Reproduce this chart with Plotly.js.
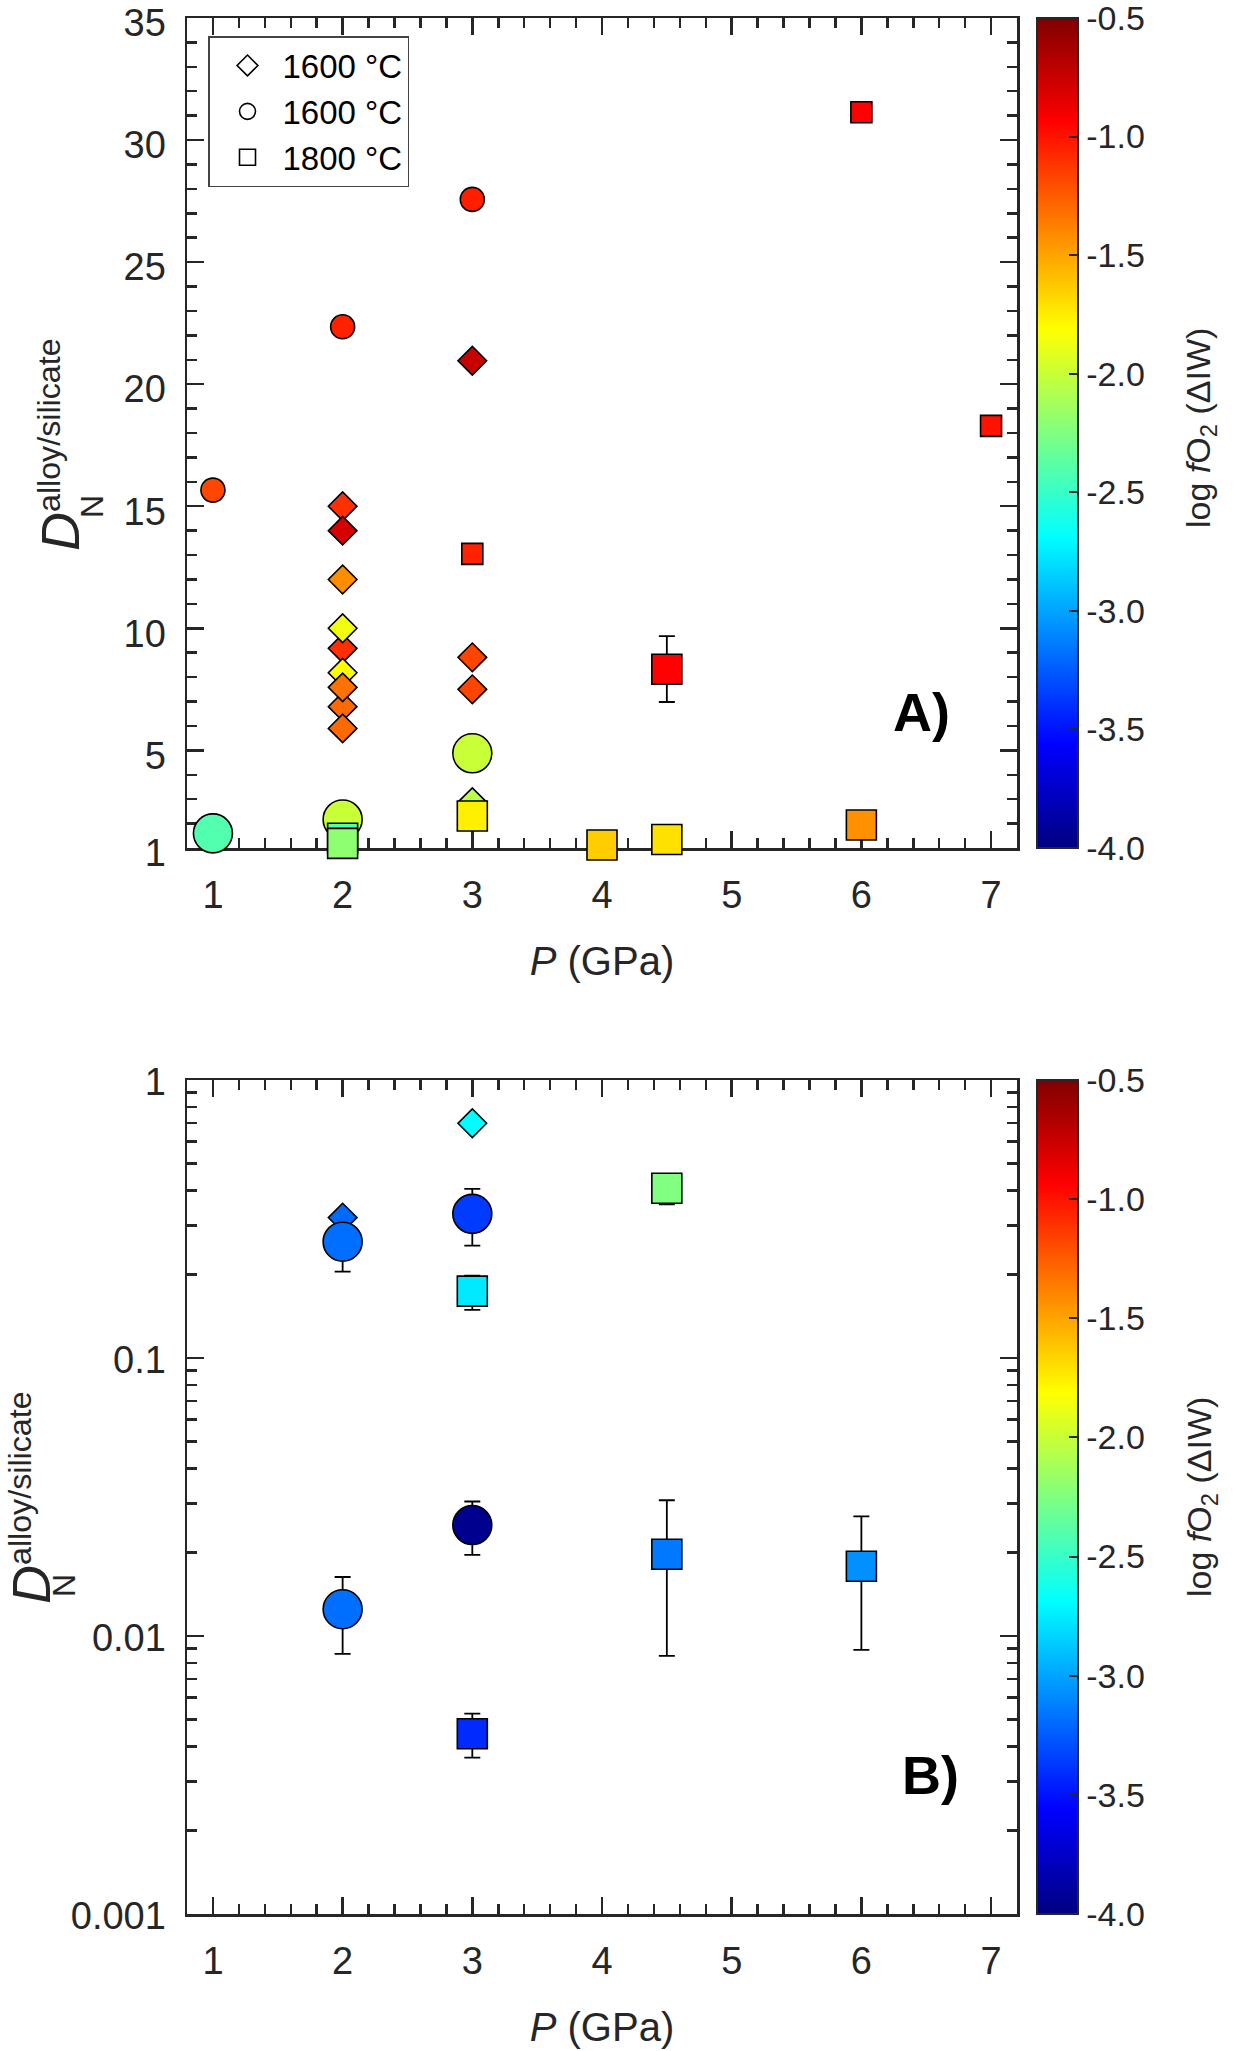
<!DOCTYPE html>
<html>
<head>
<meta charset="utf-8">
<script src="https://cdn.plot.ly/plotly-3.0.1.min.js"></script>
<style>body{margin:0;background:#fff}#chart{width:1243px;height:2051px}</style>
</head>
<body>
<div id="chart"></div>
<script>
// ---------- Panel A (linear) ----------
// series: d = diamond 1600 °C, c = circle 1600 °C, s = square 1800 °C ; grp: 1 = small marker set, 2 = large marker set
const pA    = [1, 1, 2, 3, 2, 2, 2, 2, 2, 2, 2, 2, 2, 2, 2, 2, 3, 3, 3, 3, 3, 3, 3, 4, 4.5, 4.5, 6, 6, 7];
const dA    = [1.6, 15.66, 22.35, 27.57, 15.0, 14.0, 12.0, 9.18, 10.0, 8.18, 6.79, 7.58, 5.9, 2.17, 1.40, 1.19,
               20.96, 8.81, 7.5, 2.88, 4.88, 13.05, 2.31, 1.12, 8.32, 1.35, 31.14, 1.94, 18.29];
const fA    = [-2.41, -1.18, -1.05, -1.04, -1.1, -0.8, -1.42, -1.1, -1.86, -1.8, -1.3, -1.33, -1.3, -2.0, -2.41, -2.2,
               -0.75, -1.17, -1.17, -2.05, -2.0, -1.05, -1.76, -1.64, -0.94, -1.71, -0.94, -1.43, -1.0];
const serA  = ['c','c','c','c','d','d','d','d','d','d','d','d','d','c','s','s',
               'd','d','d','d','c','s','s','s','s','s','s','s','s'];
const grpA  = [2,1,1,1,1,1,1,1,1,1,1,1,1,2,2,2, 1,1,1,1,2,1,2,2,2,2,1,2,1];
const errUpA = [NaN,NaN,NaN,NaN,NaN,NaN,NaN,NaN,NaN,NaN,NaN,NaN,NaN,NaN,NaN,NaN,
                NaN,NaN,NaN,NaN,NaN,NaN,NaN,NaN,1.36,NaN,NaN,NaN,NaN];
const errDnA = [NaN,NaN,NaN,NaN,NaN,NaN,NaN,NaN,NaN,NaN,NaN,NaN,NaN,NaN,NaN,NaN,
                NaN,NaN,NaN,NaN,NaN,NaN,NaN,NaN,1.34,NaN,NaN,NaN,NaN];

// ---------- Panel B (log) ----------
const pB    = [2, 2, 2, 3, 3, 3, 3, 3, 4.5, 4.5, 6];
const dB    = [0.32, 0.262, 0.01248, 0.699, 0.33, 0.174, 0.02507, 0.00445, 0.408, 0.01968, 0.01782];
const fB    = [-3.2, -3.18, -3.18, -2.69, -3.36, -2.76, -3.95, -3.42, -2.25, -3.15, -3.07];
const serB  = ['d','c','c','d','c','s','c','s','s','s','s'];
const grpB  = [1,2,2,1,2,2,2,2,2,2,2];
const errUpB = [NaN, 0.058, 0.00382, NaN, 0.076, 0.024, 0.0054, 0.00081, 0.03, 0.0111, 0.0091];
const errDnB = [NaN, 0.0575, 0.00385, NaN, 0.0765, 0.025, 0.0055, 0.0008, 0.051, 0.0112, 0.0089];

// ---------- axis / colour-bar labels ----------
const pTicks   = [1, 2, 3, 4, 5, 6, 7];
const yTicksA  = [1, 5, 10, 15, 20, 25, 30, 35];
const yTicksB  = [0.001, 0.01, 0.1, 1];
const yTextB   = ['0.001', '0.01', '0.1', '1'];
const cbTicks  = [-4, -3.5, -3, -2.5, -2, -1.5, -1, -0.5];
const cbText   = ['-4.0', '-3.5', '-3.0', '-2.5', '-2.0', '-1.5', '-1.0', '-0.5'];
const legendNames = ['1600 °C', '1600 °C', '1800 °C'];
const yTitle  = '<span style="font-size:54px"><i>D</i></span><sup>alloy/silicate</sup>';
const ySub    = 'N';
const cbTitle = 'log <i>f</i>O<sub>2</sub> (ΔIW)';

// ---------- styles ----------
const W = 1243, H = 2051;
const FONT = 'Liberation Sans, Arial, Helvetica, sans-serif';
const INK = '#262626';
const jet = [[0,'rgb(0,0,128)'],[0.125,'rgb(0,0,255)'],[0.375,'rgb(0,255,255)'],
             [0.625,'rgb(255,255,0)'],[0.875,'rgb(255,0,0)'],[1,'rgb(128,0,0)']];
const SYM = {d:'diamond', c:'circle', s:'square'};
const SIZE = {d:{1:22,2:22}, c:{1:24,2:39}, s:{1:21,2:30}};

const px = v => v / W;
const py = v => 1 - v / H;

function cbar(top, bottom) {
  return {
    x: px(1037), xanchor: 'left', xpad: 0,
    y: py(top), yanchor: 'top', ypad: 0,
    len: (bottom - top) / H, lenmode: 'fraction',
    thickness: 41, thicknessmode: 'pixels',
    outlinewidth: 2, outlinecolor: INK,
    ticks: 'inside', ticklen: 10, tickwidth: 2, tickcolor: INK,
    tickmode: 'array', tickvals: cbTicks, ticktext: cbText, ticklabeloverflow: 'allow',
    tickfont: {family: FONT, size: 34, color: INK}
  };
}

function dataTrace(p, d, f, ser, grp, up, dn, xa, ya, top, bottom) {
  return {
    type: 'scatter', mode: 'markers', x: p, y: d, xaxis: xa, yaxis: ya,
    showlegend: false, cliponaxis: false, hoverinfo: 'x+y',
    marker: {
      symbol: ser.map(s => SYM[s]),
      size: ser.map((s, i) => SIZE[s][grp[i]]),
      opacity: 1,
      color: f, cmin: -4, cmax: -0.5, colorscale: jet, showscale: true,
      line: {color: '#000', width: 1.6},
      colorbar: cbar(top, bottom)
    },
    error_y: {type: 'data', symmetric: false, array: up, arrayminus: dn,
              color: '#000', thickness: 1.8, width: 8}
  };
}

const traces = [
  dataTrace(pA, dA, fA, serA, grpA, errUpA, errDnA, 'x', 'y', 18, 848),
  dataTrace(pB, dB, fB, serB, grpB, errUpB, errDnB, 'x2', 'y2', 1080, 1914)
];
['d','c','s'].forEach((s, i) => traces.push({
  type: 'scatter', mode: 'markers', x: [null], y: [null], xaxis: 'x', yaxis: 'y',
  name: legendNames[i], showlegend: true,
  marker: {symbol: SYM[s], size: 16, opacity: 1, color: '#fff', line: {color: '#000', width: 1.6}}
}));

function xAxis(anchor) {
  return {
    domain: [px(187), px(1017)], anchor: anchor, range: [0.8, 7.2], layer: 'below traces',
    tickmode: 'array', tickvals: pTicks, ticks: 'inside', ticklen: 17, tickwidth: 2.5, tickcolor: INK,
    showline: true, linewidth: 2.5, linecolor: INK, mirror: 'allticks',
    showgrid: false, zeroline: false, ticklabeloverflow: 'allow',
    minor: {tickmode: 'linear', tick0: 0, dtick: 0.2, ticks: 'inside', ticklen: 10, tickwidth: 2.5, tickcolor: INK},
    tickfont: {family: FONT, size: 38, color: INK}, ticklabelstandoff: 12,
    title: {text: '<i>P</i> (GPa)', font: {family: FONT, size: 40, color: INK}, standoff: 32}
  };
}

function yAxisCommon(shift) {
  return {
    ticks: 'inside', ticklen: 17, tickwidth: 2.5, tickcolor: INK, layer: 'below traces',
    showline: true, linewidth: 2.5, linecolor: INK, mirror: 'allticks',
    showgrid: false, zeroline: false, ticklabeloverflow: 'allow',
    tickfont: {family: FONT, size: 38, color: INK}, ticklabelstandoff: 11, ticklabelshift: shift
  };
}

function rotText(x, y, text, size) {
  return {xref: 'paper', yref: 'paper', x: px(x), y: py(y), xanchor: 'center', yanchor: 'middle',
          textangle: -90, showarrow: false, text: text, font: {family: FONT, size: size, color: INK}};
}
function panelTag(x, y, text) {
  return {xref: 'paper', yref: 'paper', x: px(x), y: py(y), xanchor: 'center', yanchor: 'middle',
          showarrow: false, text: '<b>' + text + '</b>', font: {family: FONT, size: 54, color: '#000'}};
}

const layout = {
  width: W, height: H, margin: {l: 0, r: 0, t: 0, b: 0},
  paper_bgcolor: '#fff', plot_bgcolor: '#fff',
  font: {family: FONT, color: INK},
  showlegend: true,
  legend: {x: px(208), y: py(36), xanchor: 'left', yanchor: 'top',
           bgcolor: '#fff', bordercolor: '#444', borderwidth: 1.5,
           font: {family: FONT, size: 33, color: '#000'}, indentation: 3, itemwidth: 60, itemsizing: 'trace'},
  xaxis: xAxis('y'),
  xaxis2: xAxis('y2'),
  yaxis: Object.assign(yAxisCommon(5), {
    domain: [py(848), py(18)], anchor: 'x', range: [1, 35],
    tickmode: 'array', tickvals: yTicksA,
    minor: {tickmode: 'linear', tick0: 0, dtick: 1, ticks: 'inside', ticklen: 10, tickwidth: 2.5, tickcolor: INK}
  }),
  yaxis2: Object.assign(yAxisCommon(2), {
    domain: [py(1914), py(1080)], anchor: 'x2', type: 'log', range: [-3, 0],
    tickmode: 'array', tickvals: yTicksB, ticktext: yTextB,
    minor: {tickmode: 'linear', dtick: 'D1', ticks: 'inside', ticklen: 10, tickwidth: 2.5, tickcolor: INK}
  }),
  annotations: [
    panelTag(921, 712, 'A)'),
    panelTag(930, 1775, 'B)'),
    rotText(60, 445, yTitle, 46),
    rotText(92, 507, ySub, 32),
    rotText(31, 1498, yTitle, 46),
    rotText(64, 1585, ySub, 32),
    rotText(1201, 428, cbTitle, 34),
    rotText(1201, 1497, cbTitle, 34)
  ]
};

Plotly.newPlot('chart', traces, layout, {displayModeBar: false, staticPlot: true});
</script>
</body>
</html>
